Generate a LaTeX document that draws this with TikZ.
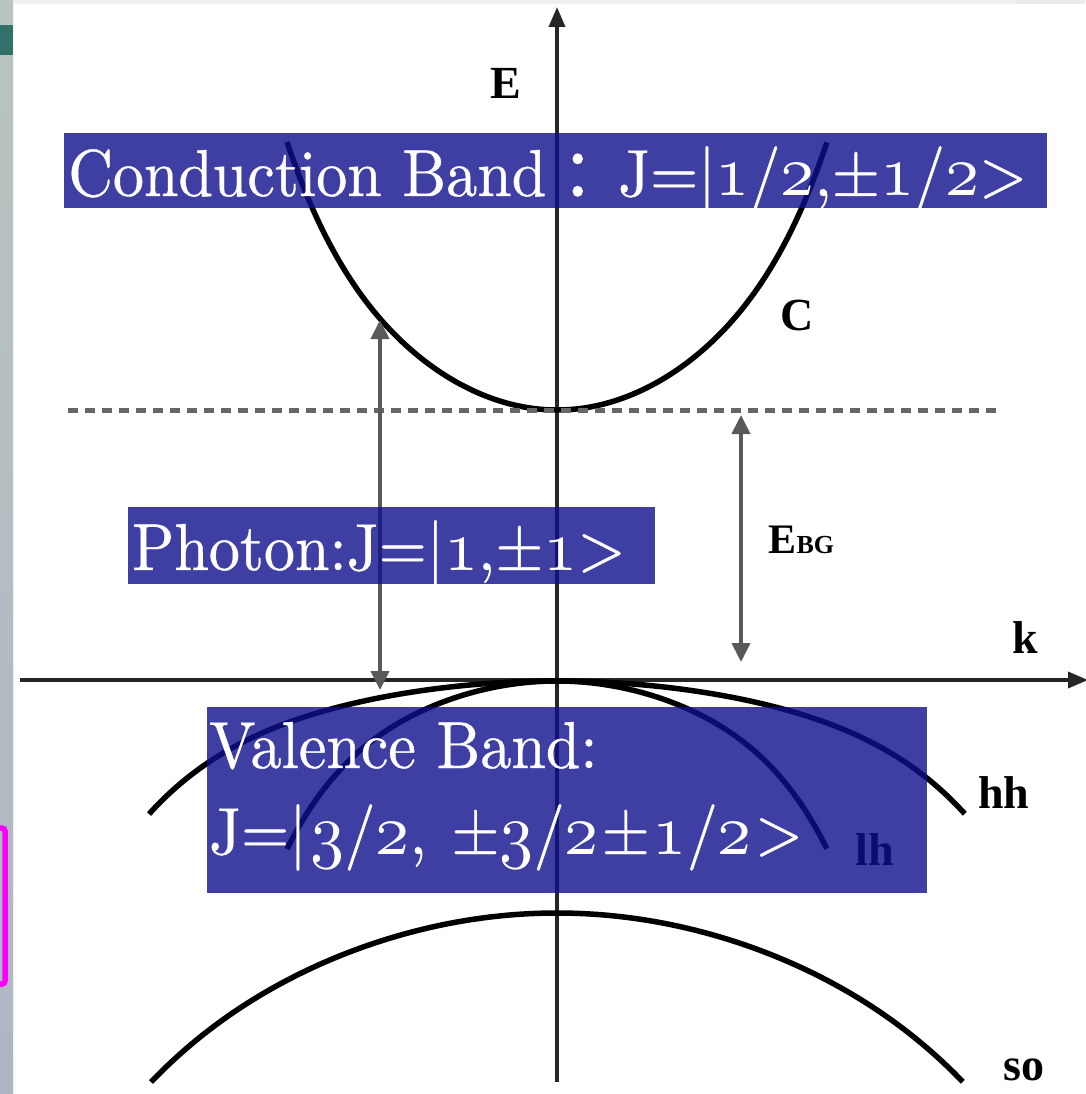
\documentclass[tikz,border=0pt]{standalone}
\usepackage{graphicx}
\usepackage{fontspec}
\newfontfamily\timesfont{Liberation Serif}
\newfontfamily\cjk{Noto Sans CJK SC}[FakeBold=1.5]
\newfontfamily\boxfont{lmroman10-regular}[Extension=.otf, FakeBold=0.6]
\usetikzlibrary{arrows.meta}
\definecolor{boxblue}{RGB}{16,16,140}
\definecolor{stripA}{RGB}{184,196,190}
\definecolor{stripB}{RGB}{176,182,196}
\definecolor{teal}{RGB}{52,112,106}
\definecolor{mag}{RGB}{255,0,255}
\newcommand\osf[1]{\scalebox{6.8}{\fontsize{10}{12}\usefont{OML}{cmm}{m}{it}#1}}
\newcommand\tall[1]{\scalebox{1}[1.07]{#1}}
\tikzset{
  band/.style={line width=5.5pt, black},
  axisline/.style={line width=3.5pt, black!85, -{Triangle[length=20pt,width=16pt]}},
  gaparrow/.style={line width=4pt, black!65, {Triangle[length=19pt,width=18pt]}-{Triangle[length=19pt,width=18pt]}},
  dottedline/.style={line width=5pt, black!60, dash pattern=on 10pt off 7pt},
  lbl/.style={font=\timesfont\bfseries\fontsize{46}{50}\selectfont, inner sep=0pt, anchor=base west},
  bandbox/.style={fill=boxblue, fill opacity=0.8, inner sep=0pt, anchor=north west, draw=none},
  boxtext/.style={text=white, font=\boxfont\fontsize{62}{72}\selectfont, inner sep=0pt, anchor=base west},
}
\begin{document}
\begin{tikzpicture}[x=1pt, y=-1pt]
\useasboundingbox (0,0) rectangle (1085,1094);
% background
\fill[white] (0,0) rectangle (1085,1094);
\shade[top color=stripA, bottom color=stripB] (0,0) rectangle (13,1094);
\fill[teal] (0,25) rectangle (13,55);
\fill[black!6] (13,0) rectangle (1085,4);
\fill[blue!10!black!8] (1015,0) rectangle (1085,4);
\draw[mag, line width=5.5pt, rounded corners=3pt] (-6,828) -- (5,828) -- (5,984) -- (-6,984);

% coordinates
\coordinate (Ebot) at (557,1082);
\coordinate (Etop) at (557,7);
\coordinate (kleft) at (20,680);
\coordinate (kright) at (1088,680);
\coordinate (gtop) at (741,415);
\coordinate (gbot) at (741,662);
\coordinate (ptop) at (380,320);
\coordinate (pbot) at (380,690);
\coordinate (dl) at (68,410);
\coordinate (dr) at (1003,410);

% axes
\draw[axisline] (Ebot) -- (Etop);
\draw[axisline] (kleft) -- (kright);

% bands
\draw[band] plot[domain=-1:1, samples=81, smooth] ({557+270*\x},{410-200*\x*\x-68*\x*\x*\x*\x*\x*\x});
\draw[band] plot[domain=-1:1, samples=81, smooth] ({557+408*\x},{681+87*\x*\x+46*\x*\x*\x*\x*\x*\x});
\draw[band] plot[domain=-1:1, samples=81, smooth] ({557+270*\x},{681+116*\x*\x+52*\x*\x*\x*\x*\x*\x});
\draw[band] plot[domain=-1:1, samples=81, smooth] ({557+406*\x},{913+148*\x*\x+21*\x*\x*\x*\x*\x*\x});

% gap line and arrows
\draw[dottedline] (dl) -- (dr);
\draw[gaparrow] (gbot) -- (gtop);
\draw[gaparrow] (pbot) -- (ptop);

% labels
\node[lbl] (Elbl) at (490,99) {E};
\node[lbl] (Clbl) at (780,330) {C};
\node[lbl] (klbl) at (1012,653) {k};
\node[lbl] (hhlbl) at (978,808) {hh};
\node[lbl] (lhlbl) at (855,865) {lh};
\node[lbl] (solbl) at (1003,1080) {so};
\node[lbl, font=\timesfont\bfseries\fontsize{42}{46}\selectfont] (Ebg) at (768,553) {E};
\node[lbl, font=\timesfont\bfseries\fontsize{26}{30}\selectfont] (BG) at (Ebg.base east) {BG};

% boxes
\node[bandbox, minimum width=983pt, minimum height=75pt] (cbox) at (64,133) {};
\node[bandbox, minimum width=527pt, minimum height=77pt] (pbox) at (128,507) {};
\node[bandbox, minimum width=720pt, minimum height=186pt] (vbox) at (207,707) {};

\node[boxtext] (ctext) at (68,196) {\tall{Conduction Band\hspace{16pt}{\cjk ：}\hspace{-6pt}J=|\osf{1}/\osf{2},±\osf{1}/\osf{2}>}};
\node[boxtext] (ptext) at (132,570) {\tall{Photon:J=|\osf{1},±\osf{1}>}};
\node[boxtext] (vtext1) at (209,768) {\tall{Valence Band:}};
\node[boxtext] (vtext2) at (209,854) {\tall{J=|\hspace{4pt}\osf{3}/\osf{2}, \hspace{4pt}±\osf{3}/\osf{2}\hspace{3pt}±\hspace{3pt}\osf{1}/\osf{2}\hspace{3pt}>}};
\end{tikzpicture}
\end{document}
